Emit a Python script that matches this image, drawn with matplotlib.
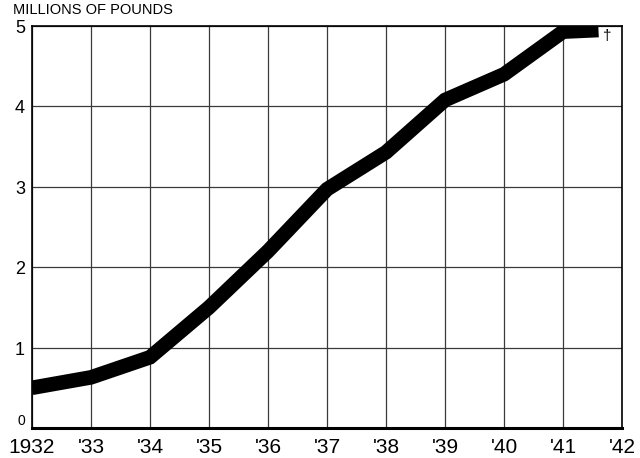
import matplotlib.pyplot as plt
from matplotlib.transforms import blended_transform_factory

years = [1932, 1933, 1934, 1935, 1936, 1937, 1938, 1939, 1940, 1941, 1941.6]
pounds = [0.50, 0.63, 0.88, 1.50, 2.20, 2.97, 3.43, 4.08, 4.40, 4.93, 4.95]

x_ticks = list(range(1932, 1943))
x_labels = ["1932", "'33", "'34", "'35", "'36", "'37", "'38", "'39", "'40", "'41", "'42"]
y_ticks = [0, 1, 2, 3, 4, 5]

plt.rcParams['font.family'] = ['Liberation Sans', 'DejaVu Sans']

fig = plt.figure(figsize=(6.4, 4.58), dpi=100)
ax = fig.add_axes([0.05, 0.0655, 0.922, 0.8777])

ax.plot(years, pounds, color="black", linewidth=10.5,
        solid_capstyle="butt", solid_joinstyle="miter", zorder=3)

ax.set_xlim(1932, 1942)
ax.set_ylim(0, 5)
ax.set_xticks(x_ticks)
ax.set_xticklabels(x_labels, fontsize=15)
ax.set_yticks(y_ticks)
ax.set_yticklabels([])
ax.tick_params(axis="both", length=0)
ax.tick_params(axis="x", pad=7)
ax.grid(True, color="#3a3a3a", linewidth=0.9)

for side in ["top", "right", "left"]:
    ax.spines[side].set_linewidth(1.2)
ax.spines["bottom"].set_linewidth(2.2)

# y labels: the zero sits on the base line, the rest centred on their rules
trans = blended_transform_factory(ax.transAxes, ax.transData)
for v in y_ticks:
    if v == 0:
        ax.text(-0.012, v, str(v), transform=trans, ha="right", va="bottom", fontsize=10)
    else:
        ax.text(-0.012, v - 0.03, str(v), transform=trans, ha="right", va="center", fontsize=13)

fig.text(0.02, 0.962, "MILLIONS OF POUNDS", fontsize=10.5, ha="left", va="bottom")
ax.text(1941.75, 4.88, "†", fontsize=11, ha="center", va="center")

fig.savefig("out.png", dpi=100)
